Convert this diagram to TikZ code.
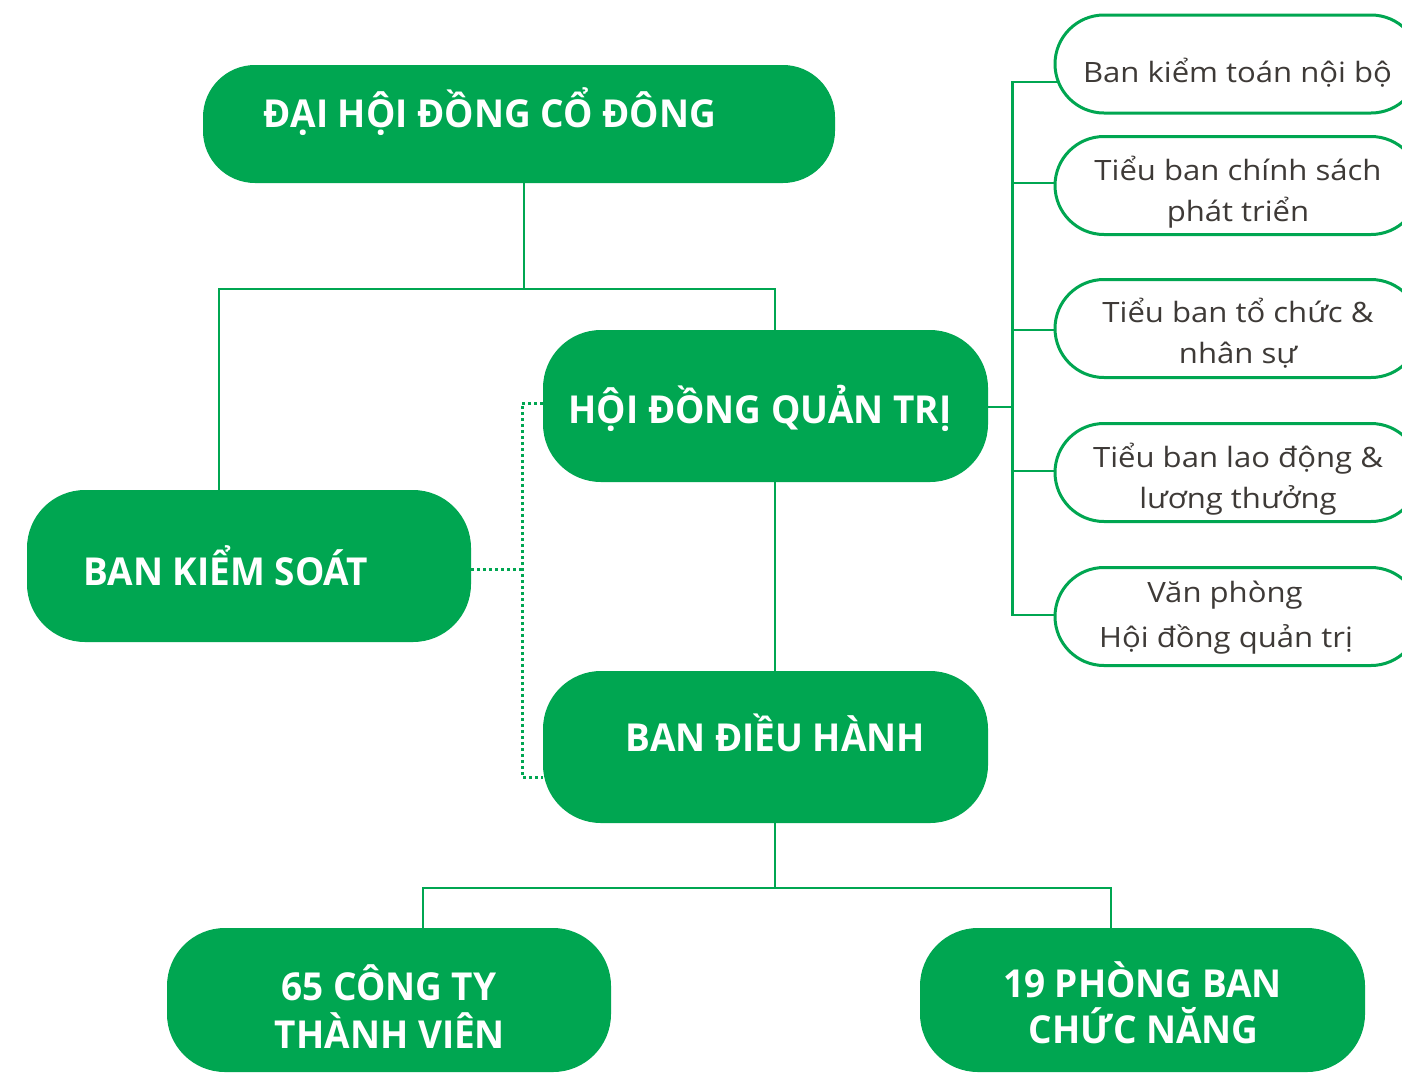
\documentclass[tikz,border=0pt]{standalone}
\usepackage{fontspec}
\setmainfont{Open Sans}
\newfontfamily\regwide[FakeStretch=1.11]{Open Sans}
\newfontfamily\boldnarrow[FakeStretch=0.96]{Open Sans Bold}
\definecolor{brandgreen}{HTML}{00A651}
\definecolor{txtgray}{HTML}{3E3A37}
\begin{document}
\begin{tikzpicture}[x=1pt,y=-1pt,
  gbox/.style={rectangle,fill=brandgreen,inner sep=0pt,outer sep=0pt,rounded corners=#1},
  gbox/.default=58pt,
  obox/.style={rectangle,draw=brandgreen,line width=3pt,fill=white,inner sep=0pt,outer sep=0pt,
    minimum width=365pt,minimum height=98pt,rounded corners=49pt},
  btxt/.style={anchor=base,text=white,inner sep=0pt,font=\boldnarrow\fontsize{38.5}{46}\selectfont},
  rtxt/.style={anchor=base,text=txtgray,inner sep=0pt,font=\regwide\fontsize{28}{34}\selectfont},
  conn/.style={draw=brandgreen,line width=2.5pt},
  dots/.style={draw=brandgreen,line width=3pt,dash pattern=on 3pt off 3pt}]
\useasboundingbox (0,0) rectangle (1402,1074);
\clip (0,0) rectangle (1402,1074);
\fill[white] (0,0) rectangle (1402,1074);

% green boxes
\node[gbox=52pt,minimum width=632pt,minimum height=118pt] (dh) at (519,124) {};
\node[gbox,minimum width=445pt,minimum height=152pt] (hdqt) at (765.5,406) {};
\node[gbox,minimum width=444pt,minimum height=152pt] (bks) at (249,566) {};
\node[gbox,minimum width=445pt,minimum height=152pt] (bdh) at (765.5,747) {};
\node[gbox,minimum width=444pt,minimum height=144pt] (ct) at (389,1000) {};
\node[gbox,minimum width=445pt,minimum height=144pt] (pb) at (1142.5,1000) {};

% outlined boxes (right)
\node[obox] (r1) at (1237.5,64) {};
\node[obox] (r2) at (1237.5,185.5) {};
\node[obox] (r3) at (1237.5,328.5) {};
\node[obox] (r4) at (1237.5,472.5) {};
\node[obox] (r5) at (1237.5,616.5) {};

% texts
\node[btxt] (tdh) at (490,127) {ĐẠI HỘI ĐỒNG CỔ ĐÔNG};
\node[btxt] (thdqt) at (760,423) {HỘI ĐỒNG QUẢN TRỊ};
\node[btxt] (tbks) at (226,585) {BAN KIỂM SOÁT};
\node[btxt] (tbdh) at (775.5,751) {BAN ĐIỀU HÀNH};
\node[btxt] (tct1) at (389,1000) {65 CÔNG TY};
\node[btxt] (tct2) at (390,1048) {THÀNH VIÊN};
\node[btxt] (tpb1) at (1142.5,997) {19 PHÒNG BAN};
\node[btxt] (tpb2) at (1143.5,1043) {CHỨC NĂNG};

\node[rtxt] (tr1) at (1237.5,82) {Ban kiểm toán nội bộ};
\node[rtxt] (tr2a) at (1238,180) {Tiểu ban chính sách};
\node[rtxt] (tr2b) at (1238,221) {phát triển};
\node[rtxt] (tr3a) at (1238,322) {Tiểu ban tổ chức \&};
\node[rtxt] (tr3b) at (1238,363) {nhân sự};
\node[rtxt] (tr4a) at (1238,467) {Tiểu ban lao động \&};
\node[rtxt] (tr4b) at (1238,508) {lương thưởng};
\node[rtxt] (tr5a) at (1225,602) {Văn phòng};
\node[rtxt] (tr5b) at (1226,647) {Hội đồng quản trị};

% solid connectors
\draw[conn] ([xshift=5pt]dh.south) -- ++(0,106) coordinate (j1);
\draw[conn] ([xshift=-30pt]bks.north) |- (j1) -| ([xshift=9.5pt]hdqt.north);
\draw[conn] ([xshift=9.5pt]hdqt.south) -- ([xshift=9.5pt]bdh.north);
\draw[conn] ([xshift=9.5pt]bdh.south) -- ++(0,65) coordinate (j2);
\draw[conn] ([xshift=34pt]ct.north) |- (j2) -| ([xshift=-31.5pt]pb.north);

\draw[conn] ([yshift=-1pt]hdqt.east) -- ++(24.5,0) coordinate (j3);
\draw[conn] ([yshift=-18pt,xshift=2pt]r1.west) -| (j3);
\draw[conn] ([yshift=1.5pt]r5.west) -| (j3);
\draw[conn] ([yshift=2.5pt]r2.west) -- ([yshift=2.5pt]r2.west -| j3);
\draw[conn] ([yshift=-1.5pt]r3.west) -- ([yshift=-1.5pt]r3.west -| j3);
\draw[conn] ([yshift=1.5pt]r4.west) -- ([yshift=1.5pt]r4.west -| j3);

% dotted connectors
\coordinate (dv) at (522,569);
\draw[dots] ([yshift=3pt]hdqt.west) -| (dv) |- ([yshift=-30pt]bdh.west);
\draw[dots] ([yshift=-3pt]bks.east) -- (dv);
\end{tikzpicture}
\end{document}
